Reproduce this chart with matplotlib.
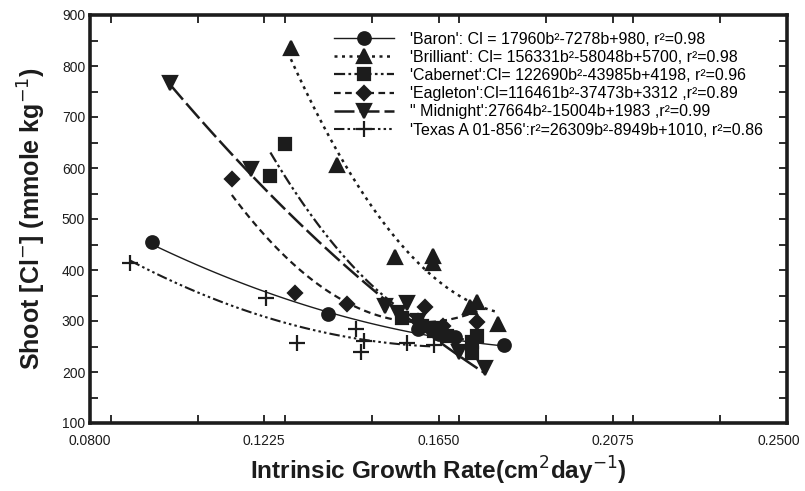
import matplotlib

matplotlib.use("Agg")
import matplotlib.pyplot as plt
import numpy as np
from matplotlib.ticker import MultipleLocator
from matplotlib.transforms import ScaledTranslation

plt.rcParams.update({"font.family": ["Liberation Sans Narrow", "Liberation Sans", "DejaVu Sans"]})
INK = "#1c1c1c"

# measured points per cultivar (growth rate, shoot Cl)
baron_x = [0.0951, 0.1380, 0.1600, 0.1650, 0.1690, 0.1810]
baron_y = [454, 313, 285, 275, 268, 253]
brilliant_x = [0.1290, 0.1403, 0.1545, 0.1637, 0.1637, 0.1727, 0.1745, 0.1796]
brilliant_y = [835, 606, 426, 427, 414, 327, 338, 295]
cabernet_x = [0.1240, 0.1275, 0.1560, 0.1610, 0.1640, 0.1670, 0.1732, 0.1732, 0.1745]
cabernet_y = [585, 648, 305, 290, 280, 270, 259, 237, 270]
eagleton_x = [0.1146, 0.1299, 0.1427, 0.1617, 0.1600, 0.1660, 0.1745]
eagleton_y = [578, 354, 333, 328, 300, 290, 299]
midnight_x = [0.0995, 0.1193, 0.1520, 0.1550, 0.1573, 0.1600, 0.1640, 0.1700, 0.1763]
midnight_y = [766, 599, 330, 315, 335, 300, 285, 240, 207]
texas_x = [0.0898, 0.1229, 0.1305, 0.1449, 0.1462, 0.1468, 0.1573, 0.1639]
texas_y = [413, 346, 256, 284, 240, 261, 257, 252]

# quadratic fits quoted in the legend (a, b, c)
baron_fit = [17960, -7278, 980]
brilliant_fit = [156331, -58048, 5700]
cabernet_fit = [122690, -43985, 4198]
eagleton_fit = [116461, -37473, 3312]
midnight_fit = [27664, -15004, 1983]
texas_fit = [26309, -8949, 1010]

labels = [
    "'Baron': Cl = 17960b²-7278b+980, r²=0.98",
    "'Brilliant': Cl= 156331b²-58048b+5700, r²=0.98",
    "'Cabernet':Cl= 122690b²-43985b+4198, r²=0.96",
    "'Eagleton':Cl=116461b²-37473b+3312 ,r²=0.89",
    "\" Midnight':27664b²-15004b+1983 ,r²=0.99",
    "'Texas A 01-856':r²=26309b²-8949b+1010, r²=0.86",
]

series = [
    (baron_x, baron_y, baron_fit, "o", 9, "-", 1.0),
    (brilliant_x, brilliant_y, brilliant_fit, "^", 10, (0, (1.2, 1.8)), 1.8),
    (cabernet_x, cabernet_y, cabernet_fit, "s", 9, (0, (5, 1.5, 1.2, 1.5, 1.2, 1.5)), 1.6),
    (eagleton_x, eagleton_y, eagleton_fit, "D", 7.5, (0, (3, 2)), 1.6),
    (midnight_x, midnight_y, midnight_fit, "v", 10, (0, (8, 2)), 1.8),
    (texas_x, texas_y, texas_fit, "+", 11, (0, (5, 1.5, 1.2, 1.5, 1.2, 1.5, 1.2, 1.5)), 1.5),
]

fig = plt.figure(figsize=(8.05, 4.91), dpi=100)
ax = fig.add_axes([90 / 805, 68 / 491, 697 / 805, 408 / 491])

handles = []
for (x, y, fit, mk, ms, ls, lw), lab in zip(series, labels):
    bb = np.linspace(min(x), max(x), 100)
    ax.plot(bb, np.polyval(fit, bb), color=INK, ls=ls, lw=lw)
    ax.plot(x, y, ls="none", marker=mk, ms=ms, color=INK, mew=1.6)
    h, = ax.plot([], [], color=INK, ls=ls, lw=lw, marker=mk, ms=ms, mew=1.6, label=lab)
    handles.append(h)

ax.set_xlim(0.08, 0.25)
ax.set_ylim(100, 900)
ax.set_xticks([0.08, 0.1225, 0.165, 0.2075, 0.25])
ax.set_xticklabels(["0.0800", "0.1225", "0.1650", "0.2075", "0.2500"])
ax.xaxis.set_minor_locator(MultipleLocator(0.02125))
ax.yaxis.set_major_locator(MultipleLocator(100))
ax.yaxis.set_minor_locator(MultipleLocator(50))
ax.tick_params(which="both", direction="in", top=True, right=True, length=6,
               width=1.3, color=INK, labelsize=10, labelcolor=INK)
ax.tick_params(axis="x", pad=8)
for s in ax.spines.values():
    s.set_linewidth(2.6)
    s.set_color(INK)

# keep the last x label inside the canvas
last = ax.get_xticklabels()[-1]
last.set_horizontalalignment("right")
last.set_transform(last.get_transform() + ScaledTranslation(13 / 100, 0, fig.dpi_scale_trans))

ax.set_xlabel("Intrinsic Growth Rate(cm$^{2}$day$^{-1}$)", fontsize=17.5, fontweight="bold",
              color=INK, labelpad=5)
ax.set_ylabel("Shoot [Cl$^{-}$] (mmole kg$^{-1}$)", fontsize=18, fontweight="bold",
              color=INK, labelpad=10)

ax.legend(handles=handles, loc="upper right", bbox_to_anchor=(0.975, 0.975), frameon=False,
          fontsize=11.5, handlelength=3.75, handletextpad=1.0, labelspacing=0.2,
          numpoints=1, borderaxespad=0)

fig.savefig("out.png", dpi=100)
